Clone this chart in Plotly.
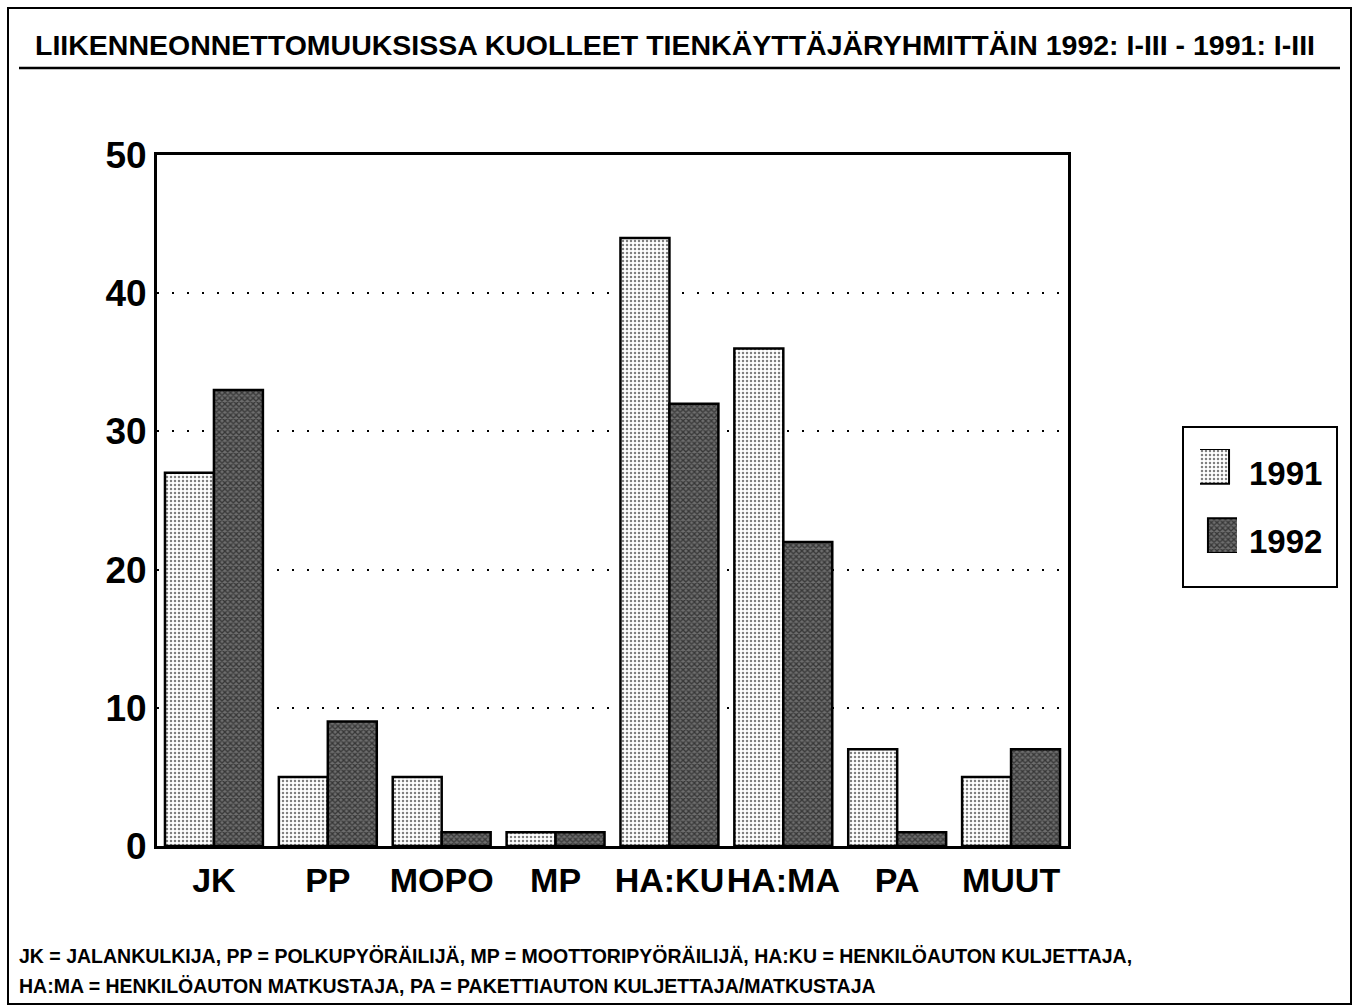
import plotly.graph_objects as go

categories = ["JK", "PP", "MOPO", "MP", "HA:KU", "HA:MA", "PA", "MUUT"]
values_1991 = [27, 5, 5, 1, 44, 36, 7, 5]
values_1992 = [33, 9, 1, 1, 32, 22, 1, 7]
y_ticks = [0, 10, 20, 30, 40, 50]
title_text = "LIIKENNEONNETTOMUUKSISSA KUOLLEET TIENKÄYTTÄJÄRYHMITTÄIN 1992: I-III - 1991: I-III"
footnote_lines = [
    "JK = JALANKULKIJA, PP = POLKUPYÖRÄILIJÄ, MP = MOOTTORIPYÖRÄILIJÄ, HA:KU = HENKILÖAUTON KULJETTAJA,",
    "HA:MA = HENKILÖAUTON MATKUSTAJA, PA = PAKETTIAUTON KULJETTAJA/MATKUSTAJA",
]

W, H = 1356, 1008
L, R, T, B = 157, 1068, 155, 846  # plot area in px


def px(x):
    return x / W


def py(y):
    return (H - y) / H


FONT = "Liberation Sans"

pat1991 = dict(shape=".", fgcolor="black", bgcolor="white", size=4, solidity=0.3)
pat1992 = dict(shape="x", fgcolor="black", bgcolor="#6e6e6e", size=4, solidity=0.55)

fig = go.Figure()
fig.add_trace(go.Bar(
    x=categories, y=values_1991, name="1991",
    marker=dict(color="white", pattern=pat1991, line=dict(color="black", width=2.5)),
    showlegend=False,
))
fig.add_trace(go.Bar(
    x=categories, y=values_1992, name="1992",
    marker=dict(color="#6e6e6e", pattern=pat1992, line=dict(color="black", width=2.5)),
    showlegend=False,
))

# legend swatches drawn as bars on a small helper axis
leg_x0, leg_x1 = 1200, 1237
fig.add_trace(go.Bar(
    x=[0.5], y=[1], base=[2], width=[1], xaxis="x2", yaxis="y2",
    marker=dict(color="white", pattern=pat1991, line=dict(color="black", width=2)),
    showlegend=False, hoverinfo="skip",
))
fig.add_trace(go.Bar(
    x=[0.5], y=[1], base=[0], width=[1], xaxis="x2", yaxis="y2",
    marker=dict(color="#6e6e6e", pattern=pat1992, line=dict(color="black", width=2)),
    showlegend=False, hoverinfo="skip",
))

fig.update_layout(
    width=W, height=H, autosize=False,
    margin=dict(l=0, r=0, t=0, b=0, pad=0, autoexpand=False),
    paper_bgcolor="white", plot_bgcolor="white",
    barmode="group", bargap=0.14, bargroupgap=0,
    font=dict(family=FONT, color="black"),
    xaxis=dict(
        domain=[px(L), px(R)], automargin=False,
        type="category", range=[-0.5, 7.5],
        showline=True, linecolor="black", linewidth=3, mirror=True,
        showgrid=False, ticks="", tickangle=0, ticklabelstandoff=2,
        tickfont=dict(family=FONT, size=34, color="black", weight="bold"),
    ),
    yaxis=dict(
        domain=[py(B), py(T)], automargin=False,
        range=[0, 50], tickvals=y_ticks,
        showline=True, linecolor="black", linewidth=3, mirror=True,
        showgrid=True, gridcolor="black", gridwidth=2, griddash="2px,13px",
        zeroline=False, ticks="", ticklabelstandoff=0,
        tickfont=dict(family=FONT, size=37, color="black", weight="bold"),
    ),
    xaxis2=dict(domain=[px(leg_x0), px(leg_x1)], range=[0, 1], anchor="y2",
                visible=False, fixedrange=True, automargin=False),
    yaxis2=dict(domain=[py(553), py(449)], range=[0, 3], anchor="x2",
                visible=False, fixedrange=True, automargin=False),
)

shapes = [
    dict(type="rect", xref="paper", yref="paper",
         x0=px(8), x1=px(1351), y0=py(1004), y1=py(8),
         line=dict(color="black", width=2)),
    dict(type="line", xref="paper", yref="paper",
         x0=px(19), x1=px(1340), y0=py(68), y1=py(68),
         line=dict(color="black", width=2.5)),
    dict(type="rect", xref="paper", yref="paper",
         x0=px(1183), x1=px(1337), y0=py(587), y1=py(427),
         line=dict(color="black", width=2)),
]
fig.update_layout(shapes=shapes)

annotations = [
    dict(text=title_text, xref="paper", yref="paper", x=px(675), y=py(45),
         xanchor="center", yanchor="middle", showarrow=False,
         font=dict(family=FONT, size=28.5, color="black", weight="bold")),
    dict(text="1991", xref="paper", yref="paper", x=px(1247), y=py(473),
         xanchor="left", yanchor="middle", showarrow=False,
         font=dict(family=FONT, size=33, color="black", weight="bold")),
    dict(text="1992", xref="paper", yref="paper", x=px(1247), y=py(541),
         xanchor="left", yanchor="middle", showarrow=False,
         font=dict(family=FONT, size=33, color="black", weight="bold")),
]
for i, line in enumerate(footnote_lines):
    annotations.append(dict(
        text=line, xref="paper", yref="paper", x=px(17), y=py(956 + 30 * i),
        xanchor="left", yanchor="middle", showarrow=False,
        font=dict(family=FONT, size=19.5, color="black", weight="bold")))
fig.update_layout(annotations=annotations)

fig.write_html(
    "out.html",
    config={"displayModeBar": False},
    post_script="document.body.style.margin='0';document.body.style.overflow='hidden';",
)
